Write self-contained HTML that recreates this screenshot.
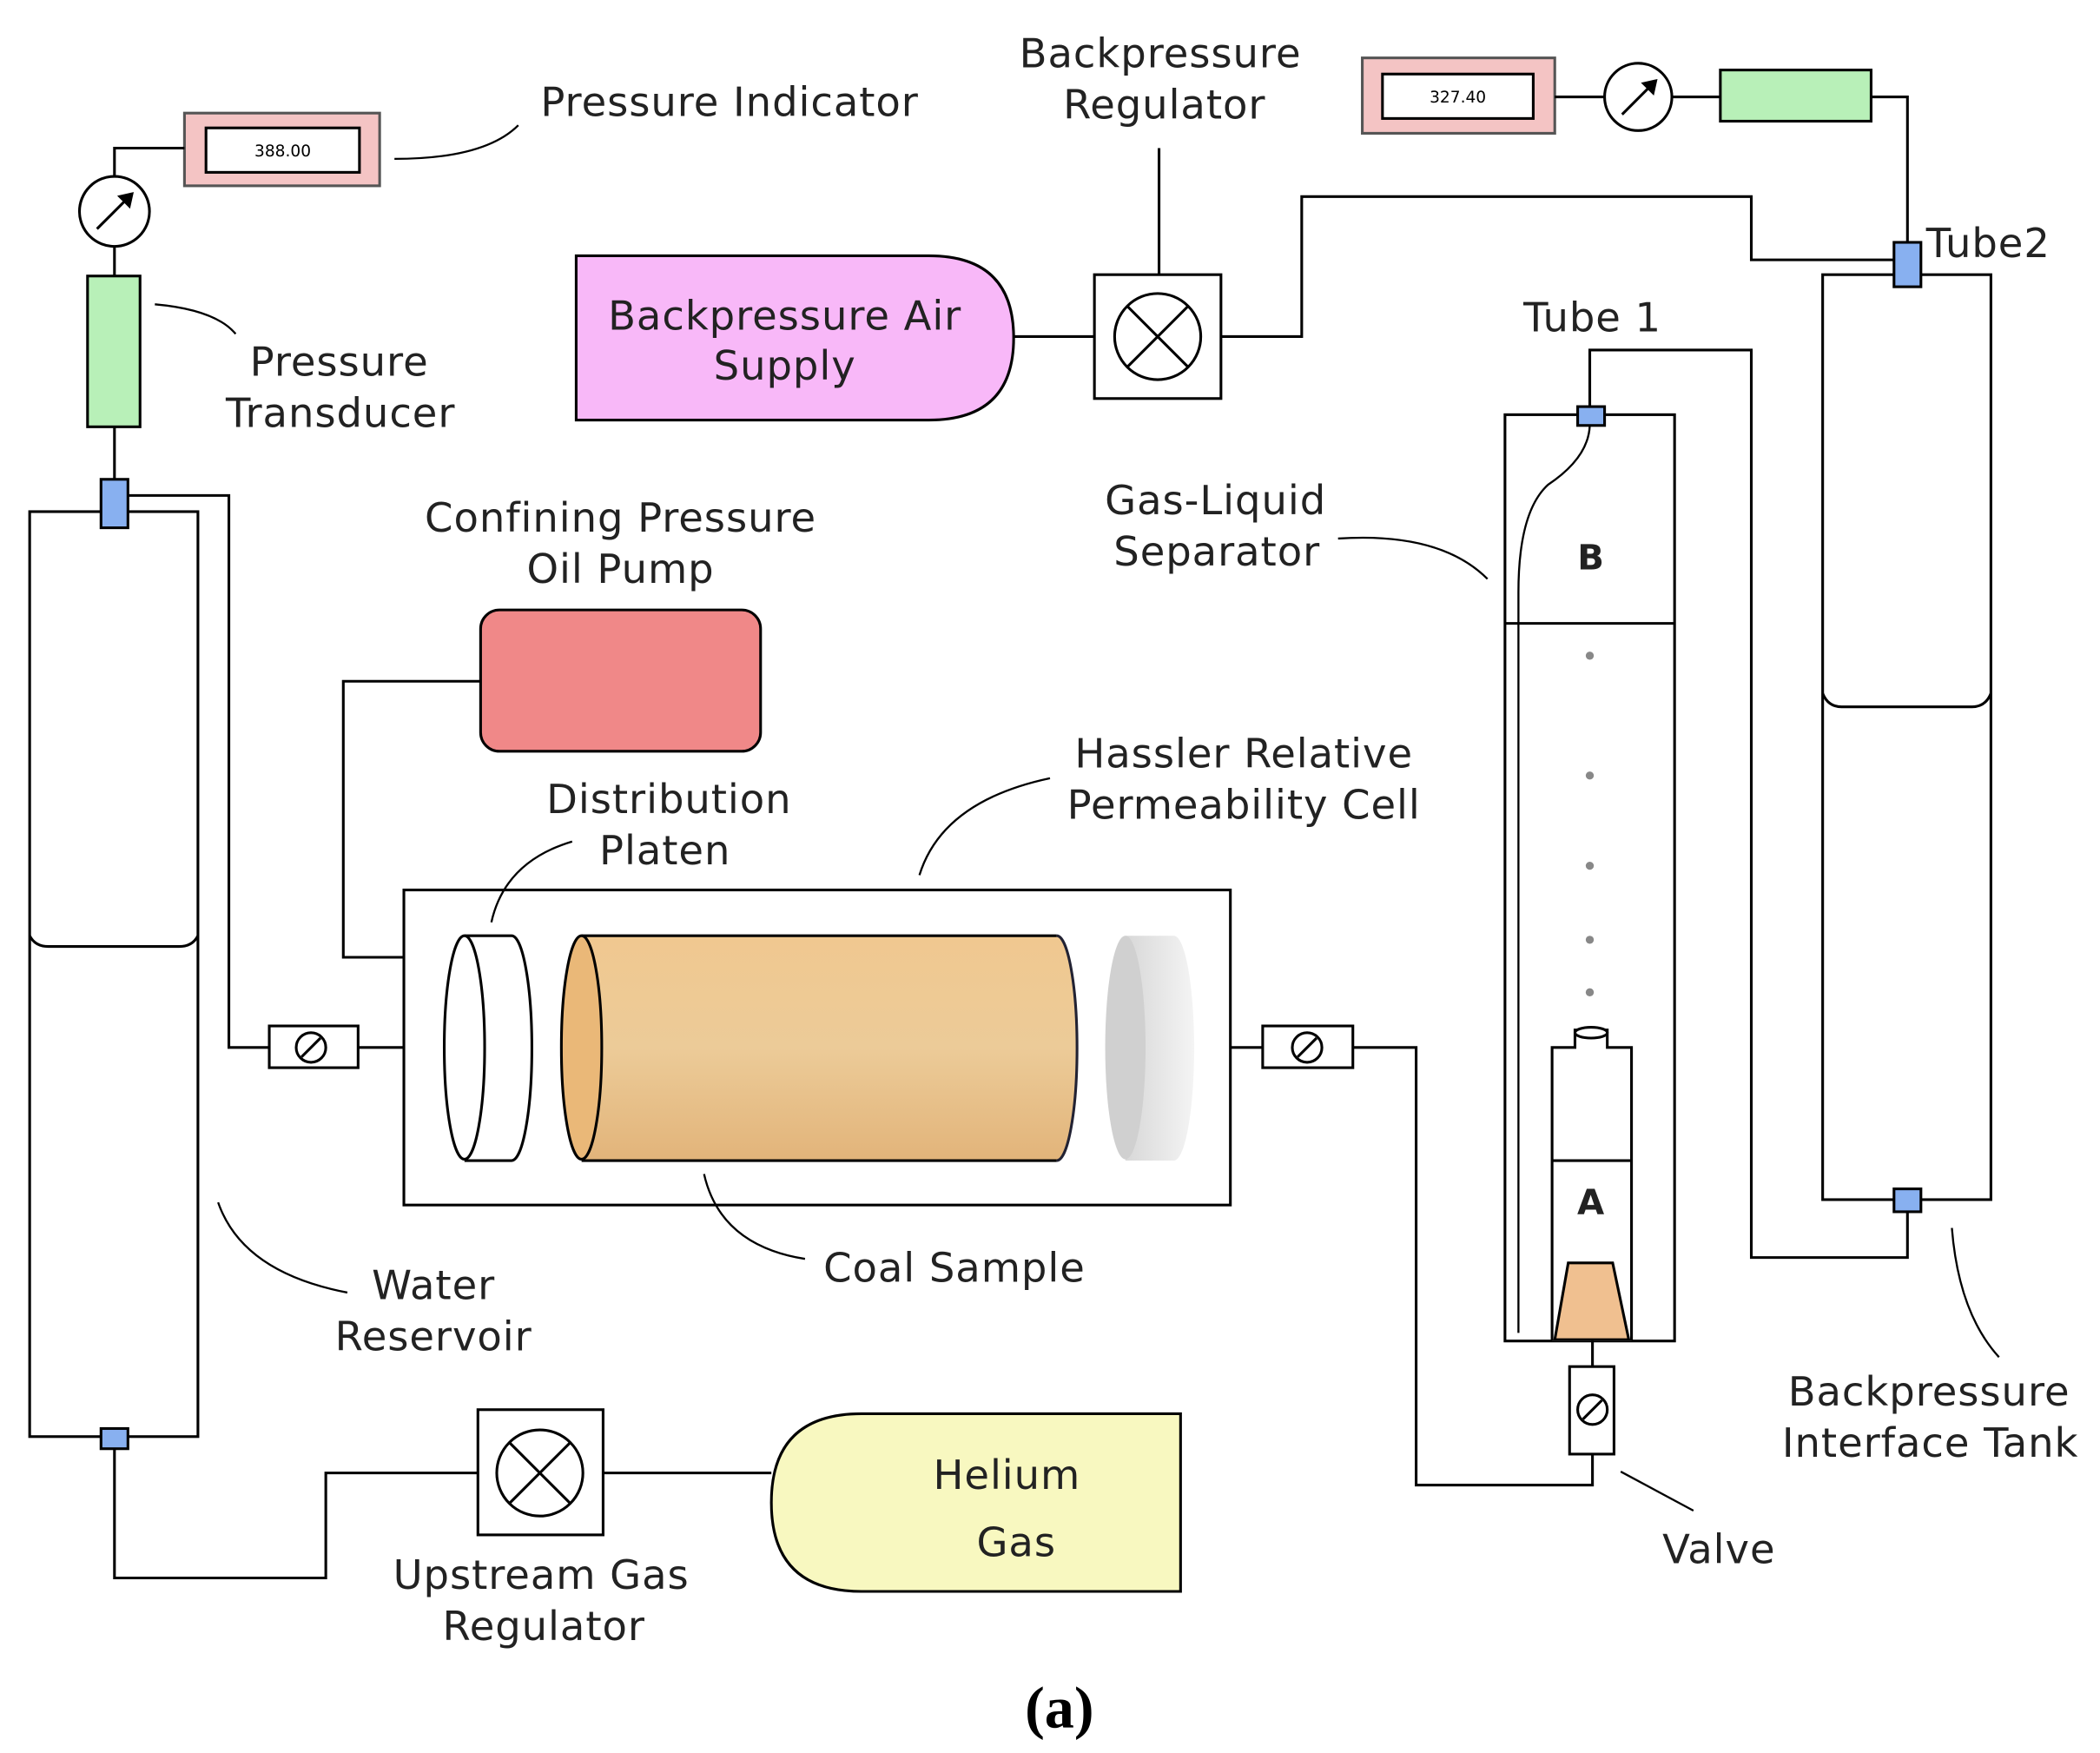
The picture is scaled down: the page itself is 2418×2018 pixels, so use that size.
<!DOCTYPE html>
<html><head><meta charset="utf-8"><style>html,body{margin:0;padding:0;background:#fff}svg{display:block}</style></head><body>
<svg width="2418" height="2018" viewBox="0 0 1560 1302" xmlns="http://www.w3.org/2000/svg" font-family="'DejaVu Sans','Liberation Sans',sans-serif">
<defs>
<linearGradient id="coal" x1="0" y1="0" x2="0" y2="1"><stop offset="0" stop-color="#f0c890"/><stop offset="0.5" stop-color="#eccb98"/><stop offset="1" stop-color="#e2b47a"/></linearGradient>
<linearGradient id="grey" x1="0" y1="0" x2="1" y2="0"><stop offset="0" stop-color="#d8d8d8"/><stop offset="1" stop-color="#f4f4f4"/></linearGradient>
</defs>
<g fill="none" stroke="#000" stroke-width="2">
<rect x="137" y="84" width="145" height="54" fill="#f4c4c4" stroke="#555"/>
<rect x="153" y="95" width="114" height="33" fill="#fff"/>
<path d="M85 131 V110 H137"/>
<circle cx="85" cy="157" r="26" fill="#fff"/>
<path d="M72 170 L98 144"/><path d="M98 144 l-9 2 l7 7 z" fill="#000"/>
<path d="M85 183 V205"/>
<rect x="65" y="205" width="39" height="112" fill="#b8f0b8"/>
<path d="M85 317 V356"/>
<rect x="22" y="380" width="125" height="687" fill="#fff"/>
<path d="M22 695 Q26 703 36 703 H133 Q143 703 147 695"/>
<rect x="75" y="356" width="20" height="36" fill="#88b0f0"/>
<path d="M95 368 H170 V778 H200"/>
<rect x="200" y="762" width="66" height="31" fill="#fff"/>
<circle cx="231" cy="778" r="11"/><path d="M224 785 L238 771"/>
<path d="M266 778 H300"/>
<rect x="75" y="1061" width="20" height="15" fill="#88b0f0"/>
<path d="M85 1076 V1172 H242 V1094 H355"/>
<rect x="355" y="1047" width="93" height="93" fill="#fff"/>
<circle cx="401" cy="1094" r="32"/><path d="M378 1071 L424 1117 M424 1071 L378 1117"/>
<path d="M448 1094 H573"/>
<path d="M640 1050 H877 V1182 H640 Q573 1182 573 1116 Q573 1050 640 1050 Z" fill="#f8f8c0"/>
<rect x="357" y="453" width="208" height="105" rx="14" fill="#f08888"/>
<path d="M357 506 H255 V711 H300"/>
<rect x="300" y="661" width="614" height="234" fill="#fff"/>
<path d="M345 695 H380 A15 83 0 0 1 380 862 H345" fill="#fff"/>
<ellipse cx="345" cy="778" rx="15" ry="83" fill="#fff"/>
<path d="M432 695 H785 A15 83 0 0 1 785 862 H432 Z" fill="url(#coal)" stroke="none"/>
<path d="M432 695 H785 M432 862 H785"/>
<path d="M785 695 A15 83 0 0 1 785 862" stroke="#223"/>
<ellipse cx="432" cy="778" rx="15" ry="83" fill="#eab878"/>
<path d="M836 695 H872 A15 83 0 0 1 872 862 H836 Z" fill="url(#grey)" stroke="none"/>
<ellipse cx="836" cy="778" rx="15" ry="83" fill="#d0d0d0" stroke="none"/>
<path d="M914 778 H938"/>
<rect x="938" y="762" width="67" height="31" fill="#fff"/>
<circle cx="971" cy="778" r="11"/><path d="M964 785 L978 771"/>
<path d="M1005 778 H1052 V1103 H1183 V1080"/>
<path d="M428 190 H690 Q753 190 753 251 Q753 312 690 312 H428 Z" fill="#f8b8f8"/>
<path d="M753 250 H813"/>
<rect x="813" y="204" width="94" height="92" fill="#fff"/>
<circle cx="860" cy="250" r="32"/><path d="M837 227 L883 273 M883 227 L837 273"/>
<path d="M861 204 V110"/>
<path d="M907 250 H967 V146 H1301 V193 H1407"/>
<rect x="1012" y="43" width="143" height="56" fill="#f4c4c4" stroke="#555"/>
<rect x="1027" y="55" width="112" height="33" fill="#fff"/>
<path d="M1155 72 H1192"/>
<circle cx="1217" cy="72" r="25" fill="#fff"/>
<path d="M1205 85 L1230 60"/><path d="M1230 60 l-9 2 l7 7 z" fill="#000"/>
<path d="M1242 72 H1278"/>
<rect x="1278" y="52" width="112" height="38" fill="#b8f0b8"/>
<path d="M1390 72 H1417 V180"/>
<rect x="1354" y="204" width="125" height="687" fill="#fff"/>
<path d="M1354 515 Q1358 525 1368 525 H1465 Q1475 525 1479 515"/>
<rect x="1407" y="180" width="20" height="33" fill="#88b0f0"/>
<rect x="1407" y="883" width="20" height="17" fill="#88b0f0"/>
<path d="M1417 900 V934 H1301 V260 H1181 V302"/>
<rect x="1118" y="308" width="126" height="688" fill="#fff"/>
<path d="M1118 463 H1244"/>
<path d="M1181 316 Q1180 340 1150 360 Q1128 380 1128 440 V990" stroke-width="1.5"/>
<rect x="1172" y="302" width="20" height="14" fill="#88b0f0"/>
<g fill="#888" stroke="none"><circle cx="1181" cy="487" r="3"/><circle cx="1181" cy="576" r="3"/><circle cx="1181" cy="643" r="3"/><circle cx="1181" cy="698" r="3"/><circle cx="1181" cy="737" r="3"/></g>
<path d="M1153 996 V778 H1170 V765 H1194 V778 H1212 V996" fill="#fff"/>
<ellipse cx="1182" cy="767" rx="12" ry="4" fill="#fff"/>
<path d="M1153 862 H1212"/>
<path d="M1165 938 H1198 L1210 995 H1155 Z" fill="#f0c090"/>
<rect x="1166" y="1015" width="33" height="65" fill="#fff"/>
<path d="M1183 996 V1015"/>
<circle cx="1183" cy="1047" r="11"/><path d="M1176 1054 L1190 1040"/>
<g stroke-width="1.5">
<path d="M293 118 Q360 118 385 93"/>
<path d="M115 226 Q160 230 175 248"/>
<path d="M365 685 Q375 640 425 625"/>
<path d="M683 650 Q700 595 780 578"/>
<path d="M994 400 Q1070 395 1105 430"/>
<path d="M162 893 Q180 945 258 960"/>
<path d="M523 872 Q535 925 598 935"/>
<path d="M1450 912 Q1455 975 1485 1008"/>
<path d="M1204 1093 L1258 1122"/>
</g>
</g>
<g font-size="12" text-anchor="middle" fill="#000"><text x="210" y="116">388.00</text><text x="1083" y="76">327.40</text></g>
<g font-size="30" fill="#222" text-anchor="middle" letter-spacing="0.6">
<text x="542" y="86">Pressure Indicator</text>
<text x="862" y="50">Backpressure</text><text x="865" y="88">Regulator</text>
<text x="252" y="279">Pressure</text><text x="253" y="317">Transducer</text>
<text x="583" y="245">Backpressure Air</text><text x="583" y="282">Supply</text>
<text x="1183" y="246">Tube 1</text>
<text x="1477" y="191">Tube2</text>
<text x="903" y="382">Gas-Liquid</text><text x="904" y="420">Separator</text>
<text x="461" y="395">Confining Pressure</text><text x="461" y="433">Oil Pump</text>
<text x="924" y="570">Hassler Relative</text><text x="924" y="608">Permeability Cell</text>
<text x="497" y="604">Distribution</text><text x="494" y="642">Platen</text>
<text x="322" y="965">Water</text><text x="322" y="1003">Reservoir</text>
<text x="709" y="952">Coal Sample</text>
<text x="1433" y="1044">Backpressure</text><text x="1434" y="1082">Interface Tank</text>
<text x="1277" y="1161">Valve</text>
<text x="402" y="1180">Upstream Gas</text><text x="404" y="1218">Regulator</text>
<text x="748" y="1106">Helium</text><text x="755" y="1156">Gas</text>
<text x="1182" y="423" font-weight="bold" font-size="26">B</text>
<text x="1182" y="902" font-weight="bold" font-size="26">A</text>
</g>
<text x="787" y="1283" font-family="'Liberation Serif',serif" font-size="44" font-weight="bold" text-anchor="middle">(a)</text>
</svg>
</body></html>
